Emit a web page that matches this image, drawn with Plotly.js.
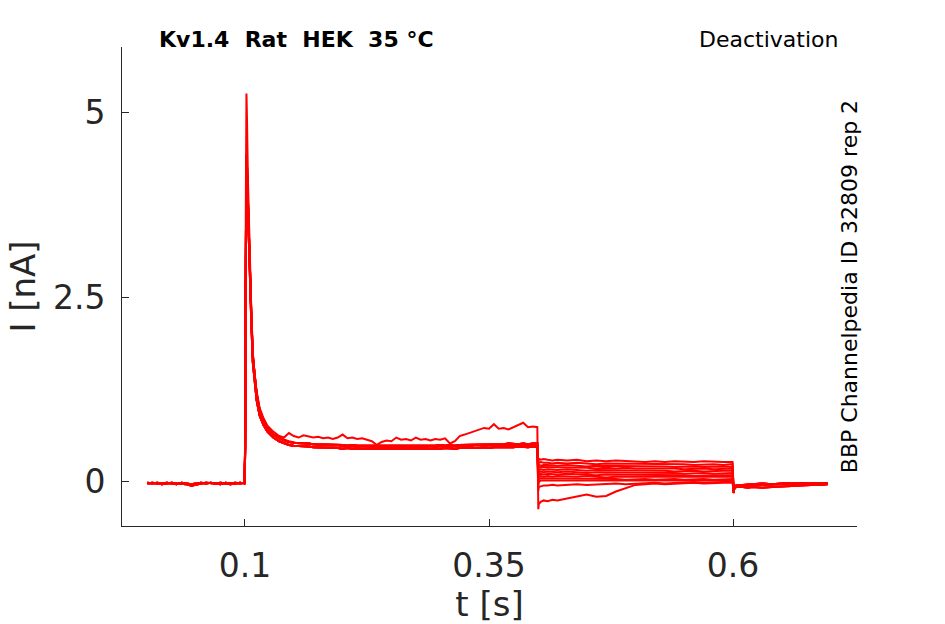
<!DOCTYPE html>
<html>
<head>
<meta charset="utf-8">
<script src="https://cdn.plot.ly/plotly-3.0.1.min.js"></script>
<style>
  html, body { margin: 0; padding: 0; background: #fff; }
  #plot { width: 945px; height: 624px; }
</style>
</head>
<body>
<div id="plot"></div>
<script>
// Kv1.4 deactivation protocol, current traces

// holding segment, 0 .. 0.0995 s
let tBase = [0, 0.005, 0.01, 0.015, 0.02, 0.025, 0.03, 0.035, 0.04, 0.045, 0.05,
  0.055, 0.06, 0.065, 0.07, 0.075, 0.08, 0.085, 0.09, 0.095, 0.0995];
let baseA = [-0.02, -0.01, -0.02, -0.03, -0.02, -0.01, -0.02, -0.02, -0.03, -0.05, -0.04,
  -0.02, -0.01, -0.02, -0.02, -0.01, -0.02, -0.03, -0.02, -0.01, -0.02];
let baseB = [-0.01, -0.02, -0.01, -0.02, -0.01, -0.02, -0.03, -0.01, -0.02, -0.03, -0.02,
  -0.01, -0.02, -0.01, -0.02, -0.03, -0.01, -0.02, -0.01, -0.02, -0.01];

// activating step, 0.1 .. 0.4 s
let tPulse = [0.1002, 0.1008, 0.1015, 0.102, 0.103, 0.104, 0.105, 0.1065, 0.108, 0.11,
  0.112, 0.115, 0.119, 0.123, 0.129, 0.135, 0.14, 0.145,
  0.15, 0.155, 0.16, 0.165, 0.17, 0.175, 0.18, 0.185, 0.19, 0.195,
  0.2, 0.205, 0.21, 0.215, 0.22, 0.225, 0.23, 0.235, 0.24, 0.245,
  0.25, 0.255, 0.26, 0.265, 0.27, 0.275, 0.28, 0.285, 0.29, 0.295,
  0.3, 0.305, 0.31, 0.315, 0.32, 0.325, 0.33, 0.335, 0.34, 0.345,
  0.35, 0.355, 0.36, 0.365, 0.37, 0.375, 0.38, 0.385, 0.39, 0.395, 0.3995];
let pulseBig = [0.6, 3.6, 5.25, 4.95, 4.1, 3.45, 3.0, 2.3, 1.75, 1.4,
  1.2, 0.98, 0.84, 0.74, 0.65, 0.6, 0.57, 0.55,
  0.53, 0.52, 0.52, 0.51, 0.5, 0.5, 0.5, 0.49, 0.49, 0.49,
  0.48, 0.48, 0.48, 0.47, 0.48, 0.47, 0.47, 0.47, 0.46, 0.47,
  0.46, 0.47, 0.46, 0.47, 0.47, 0.46, 0.47, 0.47, 0.48, 0.47,
  0.48, 0.48, 0.47, 0.48, 0.48, 0.49, 0.48, 0.49, 0.49, 0.48,
  0.49, 0.49, 0.5, 0.49, 0.5, 0.5, 0.49, 0.5, 0.5, 0.5, 0.5];
let pulseHigh = [0.5, 3.0, 4.42, 4.3, 3.8, 3.3, 2.9, 2.25, 1.7, 1.38,
  1.18, 0.97, 0.83, 0.73, 0.64, 0.59, 0.56, 0.54,
  0.53, 0.53, 0.52, 0.52, 0.51, 0.51, 0.5, 0.51, 0.5, 0.5,
  0.5, 0.49, 0.5, 0.49, 0.49, 0.48, 0.49, 0.48, 0.49, 0.48,
  0.48, 0.49, 0.48, 0.49, 0.48, 0.49, 0.49, 0.48, 0.49, 0.49,
  0.5, 0.49, 0.5, 0.49, 0.5, 0.5, 0.5, 0.51, 0.5, 0.51,
  0.51, 0.5, 0.51, 0.51, 0.52, 0.51, 0.51, 0.52, 0.51, 0.52, 0.52];
let pulseLow = [0.4, 2.6, 4.3, 4.2, 3.7, 3.2, 2.8, 2.15, 1.62, 1.3,
  1.1, 0.9, 0.77, 0.68, 0.6, 0.55, 0.52, 0.5,
  0.49, 0.49, 0.48, 0.48, 0.47, 0.47, 0.47, 0.46, 0.46, 0.46,
  0.45, 0.46, 0.45, 0.45, 0.44, 0.45, 0.44, 0.45, 0.44, 0.44,
  0.44, 0.45, 0.44, 0.44, 0.45, 0.44, 0.45, 0.45, 0.44, 0.45,
  0.45, 0.46, 0.45, 0.45, 0.46, 0.46, 0.45, 0.46, 0.46, 0.47,
  0.46, 0.47, 0.47, 0.46, 0.47, 0.47, 0.48, 0.47, 0.47, 0.48, 0.47];
let pulseNoisy = [0.5, 2.8, 4.4, 4.3, 3.85, 3.35, 2.95, 2.3, 1.75, 1.42,
  1.22, 1.0, 0.86, 0.76, 0.68, 0.62, 0.6, 0.66,
  0.62, 0.6, 0.63, 0.61, 0.6, 0.61, 0.59, 0.6, 0.58, 0.6,
  0.64, 0.59, 0.6, 0.58, 0.59, 0.57, 0.55, 0.5, 0.54, 0.56,
  0.55, 0.6, 0.57, 0.58, 0.56, 0.6, 0.57, 0.58, 0.56, 0.58,
  0.57, 0.59, 0.52, 0.55, 0.62, 0.64, 0.66, 0.68, 0.7, 0.73,
  0.72, 0.78, 0.72, 0.73, 0.71, 0.74, 0.76, 0.8, 0.74, 0.75, 0.74];

// tail step, 0.4 .. 0.6 s
let tTail = [0.4005, 0.401, 0.403, 0.406, 0.41, 0.415, 0.42,
  0.43, 0.44, 0.45, 0.46, 0.47, 0.48, 0.49, 0.5, 0.51, 0.52, 0.53, 0.54, 0.55,
  0.56, 0.57, 0.58, 0.59, 0.5995];
let tail01 = [0.27, 0.31, 0.3, 0.31, 0.3, 0.29, 0.3, 0.29, 0.3, 0.28, 0.29, 0.28, 0.29,
  0.28, 0.28, 0.27, 0.28, 0.27, 0.28, 0.27, 0.27, 0.28, 0.27, 0.27, 0.27];
let tail02 = [0.22, 0.26, 0.27, 0.26, 0.26, 0.25, 0.26, 0.25, 0.26, 0.25, 0.24, 0.25, 0.25,
  0.24, 0.25, 0.24, 0.24, 0.25, 0.24, 0.24, 0.23, 0.24, 0.24, 0.23, 0.24];
let tail03 = [0.19, 0.23, 0.22, 0.23, 0.23, 0.22, 0.22, 0.23, 0.22, 0.21, 0.22, 0.22, 0.21,
  0.22, 0.21, 0.21, 0.22, 0.21, 0.2, 0.21, 0.21, 0.2, 0.21, 0.21, 0.2];
let tail04 = [0.15, 0.19, 0.2, 0.2, 0.19, 0.2, 0.19, 0.19, 0.2, 0.19, 0.18, 0.19, 0.18,
  0.19, 0.18, 0.18, 0.19, 0.18, 0.18, 0.17, 0.18, 0.18, 0.17, 0.18, 0.18];
let tail05 = [0.12, 0.16, 0.17, 0.16, 0.17, 0.16, 0.16, 0.17, 0.16, 0.15, 0.16, 0.16, 0.15,
  0.16, 0.15, 0.15, 0.16, 0.15, 0.14, 0.15, 0.15, 0.14, 0.15, 0.15, 0.15];
let tail06 = [0.09, 0.13, 0.14, 0.13, 0.14, 0.13, 0.13, 0.14, 0.13, 0.12, 0.13, 0.13, 0.12,
  0.13, 0.12, 0.12, 0.13, 0.12, 0.12, 0.11, 0.12, 0.12, 0.11, 0.12, 0.12];
let tail07 = [0.05, 0.1, 0.11, 0.1, 0.11, 0.1, 0.1, 0.11, 0.1, 0.1, 0.09, 0.1, 0.1,
  0.09, 0.1, 0.09, 0.09, 0.1, 0.09, 0.09, 0.08, 0.09, 0.09, 0.09, 0.09];
let tail08 = [0.02, 0.07, 0.08, 0.07, 0.08, 0.07, 0.08, 0.07, 0.07, 0.08, 0.07, 0.06, 0.07,
  0.07, 0.06, 0.07, 0.07, 0.06, 0.07, 0.06, 0.06, 0.07, 0.06, 0.07, 0.07];
let tail09 = [-0.02, 0.04, 0.05, 0.05, 0.04, 0.05, 0.04, 0.05, 0.04, 0.04, 0.05, 0.04, 0.04,
  0.03, 0.04, 0.04, 0.03, 0.04, 0.04, 0.03, 0.04, 0.04, 0.03, 0.04, 0.04];
let tail10 = [-0.06, 0.0, 0.02, 0.02, 0.01, 0.02, 0.02, 0.01, 0.02, 0.01, 0.02, 0.01, 0.02,
  0.01, 0.02, 0.02, 0.01, 0.02, 0.01, 0.02, 0.02, 0.01, 0.02, 0.02, 0.02];
let tail11 = [-0.12, -0.07, -0.06, -0.05, -0.05, -0.04, -0.05, -0.04, -0.03, -0.04, -0.03, -0.03, -0.02,
  -0.03, -0.02, -0.02, -0.01, -0.02, -0.01, -0.01, 0.0, -0.01, 0.0, 0.0, 0.0];
let tail12 = [-0.37, -0.3, -0.27, -0.25, -0.26, -0.24, -0.25, -0.22, -0.19, -0.17, -0.2, -0.19, -0.13,
  -0.09, -0.04, -0.03, -0.02, -0.03, -0.02, -0.02, -0.01, -0.02, -0.01, -0.01, -0.01];

// back to holding, 0.6 .. 0.7 s
let tEnd = [0.6005, 0.601, 0.603, 0.606, 0.61, 0.615, 0.62, 0.63, 0.64, 0.65,
  0.66, 0.67, 0.68, 0.69, 0.697];
let endA = [-0.15, -0.1, -0.07, -0.06, -0.05, -0.05, -0.04, -0.04, -0.03, -0.03,
  -0.02, -0.02, -0.02, -0.02, -0.02];
let endB = [-0.08, -0.06, -0.05, -0.04, -0.04, -0.03, -0.03, -0.02, -0.03, -0.02,
  -0.02, -0.01, -0.02, -0.01, -0.02];
let endC = [-0.05, -0.04, -0.06, -0.07, -0.07, -0.08, -0.07, -0.08, -0.07, -0.06,
  -0.05, -0.05, -0.04, -0.04, -0.03];

// which segment variant each sweep uses
let sweepBase = [baseA, baseB, baseA, baseB, baseA, baseB, baseA, baseB, baseA, baseB, baseA, baseB];
let sweepPulse = [pulseHigh, pulseLow, pulseHigh, pulseLow, pulseBig, pulseHigh, pulseLow,
  pulseHigh, pulseLow, pulseHigh, pulseLow, pulseNoisy];
let sweepTail = [tail01, tail02, tail03, tail04, tail05, tail06, tail07, tail08, tail09, tail10, tail11, tail12];
let sweepEnd = [endB, endA, endB, endC, endB, endA, endB, endC, endA, endB, endA, endC];

let axisColor = '#262626';
let fontFamily = 'DejaVu Sans, sans-serif';

let traces = [];
for (let i = 0; i < sweepTail.length; i++) {
  traces.push({
    x: tBase.concat(tPulse, tTail, tEnd),
    y: sweepBase[i].concat(sweepPulse[i], sweepTail[i], sweepEnd[i]),
    mode: 'lines',
    line: {
      color: 'rgb(255, 0, 0)',
      width: 2
    },
    hoverinfo: 'skip'
  });
}

let layout = {
  width: 945,
  height: 624,
  margin: {
    l: 122,
    r: 88,
    t: 47,
    b: 98
  },
  paper_bgcolor: '#ffffff',
  plot_bgcolor: '#ffffff',
  showlegend: false,
  font: { family: fontFamily, color: axisColor },
  xaxis: {
    range: [-0.026, 0.727],
    tickvals: [0.1, 0.35, 0.6],
    ticktext: ['0.1', '0.35', '0.6'],
    ticks: 'inside',
    ticklen: 7,
    tickcolor: axisColor,
    showline: true,
    linecolor: axisColor,
    linewidth: 1,
    showgrid: false,
    zeroline: false,
    tickfont: { size: 33, color: axisColor, family: fontFamily },
    ticklabelstandoff: 10,
    title: {
      text: 't [s]',
      font: { size: 34, color: axisColor, family: fontFamily },
      standoff: 8
    }
  },
  yaxis: {
    range: [-0.596, 5.88],
    tickvals: [0, 2.5, 5],
    ticktext: ['0', '2.5', '5'],
    ticks: 'inside',
    ticklen: 7,
    tickcolor: axisColor,
    showline: true,
    linecolor: axisColor,
    linewidth: 1,
    showgrid: false,
    zeroline: false,
    tickfont: { size: 33, color: axisColor, family: fontFamily },
    ticklabelstandoff: 9,
    title: {
      text: 'I [nA]',
      font: { size: 34, color: axisColor, family: fontFamily },
      standoff: 7
    }
  },
  annotations: [
    {
      text: '<b>Kv1.4  Rat  HEK  35 °C</b>',
      xref: 'paper', yref: 'paper',
      x: 0.047, y: 1.015,
      xanchor: 'left', yanchor: 'middle',
      showarrow: false,
      font: { size: 22, color: '#000000', family: fontFamily }
    },
    {
      text: 'Deactivation',
      xref: 'paper', yref: 'paper',
      x: 0.977, y: 1.015,
      xanchor: 'right', yanchor: 'middle',
      showarrow: false,
      font: { size: 22, color: '#000000', family: fontFamily }
    },
    {
      text: 'BBP Channelpedia ID 32809 rep 2',
      xref: 'paper', yref: 'paper',
      x: 0.99, y: 0.5,
      xanchor: 'center', yanchor: 'middle',
      textangle: -90,
      showarrow: false,
      font: { size: 22, color: '#000000', family: fontFamily }
    }
  ]
};

let options = {
  staticPlot: true,
  displayModeBar: false
};

Plotly.newPlot('plot', traces, layout, options);
</script>
</body>
</html>
